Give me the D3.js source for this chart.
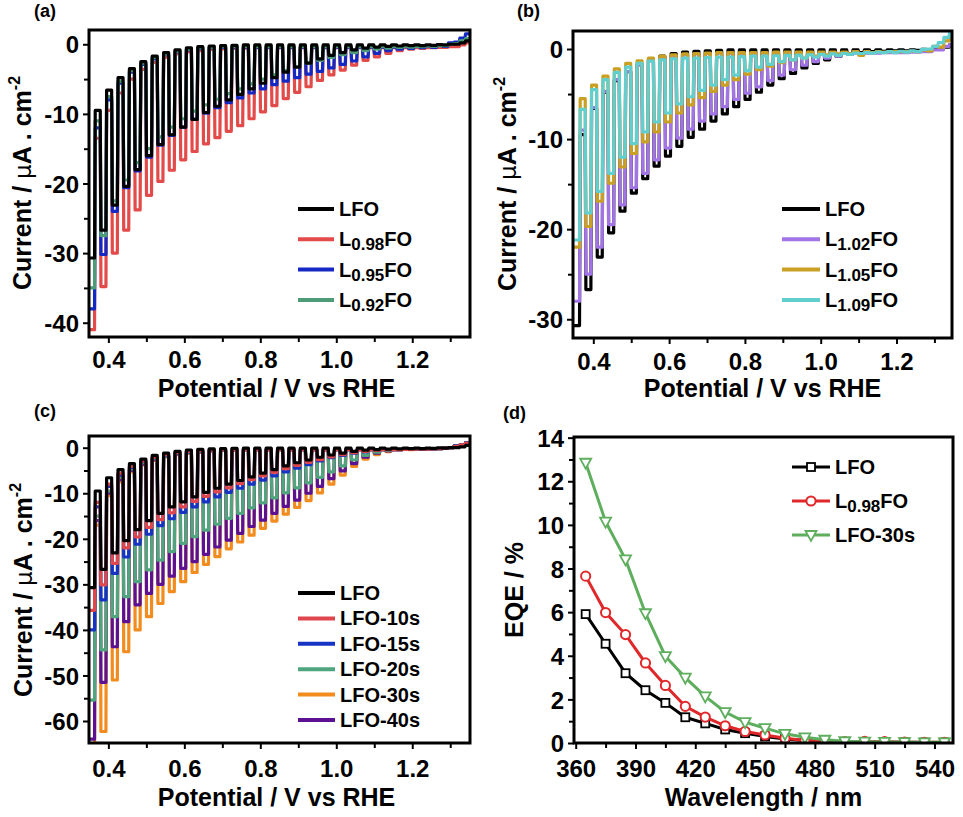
<!DOCTYPE html>
<html>
<head>
<meta charset="utf-8">
<script src="https://cdn.jsdelivr.net/npm/d3@7"></script>
<style>
  body { margin: 0; background: #fff; }
  svg text { font-family: "Liberation Sans", Arial, sans-serif; font-weight: bold; fill: #000; }
</style>
</head>
<body>
<div id="chart"></div>
<script>
// Potentials (V vs RHE) at the middle of each light-on / light-off half cycle
var lightV = [0.357, 0.387, 0.417, 0.447, 0.477, 0.507, 0.537, 0.567, 0.597, 0.627, 0.657, 0.687,
  0.717, 0.747, 0.777, 0.807, 0.837, 0.867, 0.897, 0.927, 0.957, 0.987, 1.017, 1.047, 1.077, 1.107,
  1.137, 1.167, 1.197, 1.227, 1.257, 1.287, 1.317, 1.347];
var darkV = [0.372, 0.402, 0.432, 0.462, 0.492, 0.522, 0.552, 0.582, 0.612, 0.642, 0.672, 0.702,
  0.732, 0.762, 0.792, 0.822, 0.852, 0.882, 0.912, 0.942, 0.972, 1.002, 1.032, 1.062, 1.092, 1.122,
  1.152, 1.182, 1.212, 1.242, 1.272, 1.302, 1.332];

// LFO (used in a, b, c)
var lfoOn = [-30.7, -26.7, -23.1, -20.4, -18.0, -16.0, -14.4, -13.0, -11.9, -10.8, -9.8, -8.9, -8.0, -7.2,
  -6.4, -5.6, -4.8, -4.0, -3.3, -2.7, -2.1, -1.6, -1.2, -0.8, -0.55, -0.4, -0.3, -0.25, -0.2, -0.2,
  -0.15, -0.1, 0.0, 0.5];
var lfoOff = [-9.5, -6.6, -4.8, -3.5, -2.5, -1.7, -1.2, -0.8, -0.5, -0.35, -0.25, -0.2, -0.15, -0.1,
  -0.1, -0.1, -0.1, -0.1, -0.1, -0.1, -0.1, -0.1, -0.1, -0.1, -0.1, -0.1, -0.1, -0.1, -0.1, -0.1,
  -0.05, 0.0, 0.2];

// (a) La-deficient samples
var l098On = [-41, -34.8, -30.0, -26.7, -23.8, -21.7, -19.7, -18.1, -16.6, -15.4, -14.3, -13.4, -12.5,
  -11.7, -10.7, -9.7, -8.8, -7.8, -6.9, -6.1, -5.2, -4.4, -3.7, -3.0, -2.3, -1.8, -1.3, -0.9, -0.7,
  -0.6, -0.5, -0.45, -0.35, 0.2];
var l098Off = [-13.5, -9.5, -7.0, -5.0, -3.6, -2.6, -1.9, -1.4, -1.1, -0.9, -0.75, -0.65, -0.6, -0.55,
  -0.5, -0.5, -0.5, -0.5, -0.5, -0.5, -0.5, -0.5, -0.5, -0.5, -0.5, -0.5, -0.5, -0.5, -0.5, -0.5,
  -0.45, -0.35, -0.1];
var l095On = [-38, -30.2, -24.0, -20.6, -18.2, -16.2, -14.5, -13.1, -11.9, -10.8, -9.9, -9.1, -8.4,
  -7.7, -7.0, -6.4, -5.8, -5.3, -4.8, -4.3, -3.9, -3.4, -2.9, -2.4, -1.8, -1.3, -0.9, -0.7, -0.6,
  -0.5, -0.45, -0.3, 0.3, 1.5];
var l095Off = [-12, -8.0, -5.6, -4.0, -2.9, -2.1, -1.5, -1.1, -0.8, -0.6, -0.5, -0.45, -0.4, -0.4,
  -0.4, -0.4, -0.4, -0.4, -0.4, -0.4, -0.4, -0.4, -0.4, -0.4, -0.4, -0.4, -0.4, -0.35, -0.3, -0.25,
  -0.1, 0.2, 0.9];
var l092On = [-35, -27.5, -22.5, -19.5, -17.0, -15.0, -13.3, -11.9, -10.7, -9.6, -8.7, -7.9, -7.1,
  -6.4, -5.7, -5.0, -4.4, -3.8, -3.2, -2.7, -2.3, -1.9, -1.5, -1.2, -0.9, -0.7, -0.55, -0.45, -0.4,
  -0.35, -0.3, -0.2, 0.1, 0.8];
var l092Off = [-11, -7.5, -5.3, -3.8, -2.7, -1.9, -1.4, -1.0, -0.7, -0.5, -0.4, -0.35, -0.3, -0.3,
  -0.3, -0.3, -0.3, -0.3, -0.3, -0.3, -0.3, -0.3, -0.3, -0.3, -0.3, -0.3, -0.3, -0.3, -0.3, -0.25,
  -0.2, 0.0, 0.5];

// (b) La-excess samples
var l102On = [-28.0, -25.0, -22.0, -19.5, -17.3, -15.4, -13.8, -12.3, -11.0, -9.9, -8.9, -8.0, -7.2,
  -6.4, -5.6, -4.9, -4.2, -3.5, -2.9, -2.3, -1.8, -1.4, -1.0, -0.8, -0.6, -0.5, -0.45, -0.4, -0.4,
  -0.4, -0.35, -0.3, -0.1, 0.5];
var l102Off = [-9.0, -6.5, -4.7, -3.4, -2.5, -1.8, -1.3, -1.0, -0.8, -0.65, -0.55, -0.5, -0.45, -0.45,
  -0.45, -0.45, -0.45, -0.45, -0.45, -0.45, -0.45, -0.45, -0.45, -0.45, -0.45, -0.45, -0.45, -0.4,
  -0.4, -0.35, -0.3, -0.1, 0.3];
var l105On = [-22.0, -19.7, -16.9, -14.9, -13.1, -11.6, -10.3, -9.2, -8.1, -7.1, -6.2, -5.4, -4.7,
  -4.0, -3.4, -2.8, -2.3, -1.9, -1.5, -1.2, -1.0, -0.8, -0.65, -0.55, -0.5, -0.7, -0.4, -0.35, -0.3,
  -0.3, -0.3, -0.2, 0.2, 1.3];
var l105Off = [-5.5, -4.0, -3.0, -2.2, -1.6, -1.3, -1.0, -0.8, -0.65, -0.55, -0.5, -0.45, -0.4, -0.4,
  -0.4, -0.4, -0.4, -0.35, -0.35, -0.35, -0.35, -0.35, -0.35, -0.35, -0.3, -0.3, -0.3, -0.3, -0.3,
  -0.25, -0.1, 0.3, 0.9];
var l109On = [-21.2, -18.2, -15.8, -13.8, -12.0, -10.5, -9.2, -8.1, -7.1, -6.1, -5.3, -4.6, -4.0,
  -3.4, -2.9, -2.4, -2.0, -1.7, -1.4, -1.2, -1.0, -0.9, -0.8, -0.7, -0.6, -0.5, -0.45, -0.4, -0.4,
  -0.35, -0.3, 0.0, 0.7, 2.0];
var l109Off = [-6.7, -4.5, -3.4, -2.6, -2.0, -1.6, -1.35, -1.2, -1.1, -1.0, -1.0, -0.95, -0.9, -0.9,
  -0.85, -0.8, -0.8, -0.75, -0.7, -0.7, -0.65, -0.6, -0.55, -0.5, -0.45, -0.4, -0.35, -0.3, -0.25,
  -0.2, -0.05, 0.3, 1.3];

// (c) treatment time series
var s10On = [-35.7, -30.1, -25.4, -22.0, -19.6, -17.5, -15.8, -14.3, -13.0, -11.8, -10.7, -9.7, -8.8,
  -7.9, -7.0, -6.2, -5.4, -4.6, -3.9, -3.2, -2.6, -2.0, -1.5, -1.1, -0.8, -0.6, -0.45, -0.4, -0.35,
  -0.3, -0.25, -0.1, 0.3, 1.0];
var s10Off = [-12, -8.0, -5.6, -4.1, -2.9, -2.1, -1.5, -1.1, -0.8, -0.6, -0.5, -0.45, -0.4, -0.4,
  -0.4, -0.4, -0.4, -0.4, -0.4, -0.4, -0.4, -0.4, -0.4, -0.4, -0.4, -0.4, -0.4, -0.35, -0.3, -0.3,
  -0.2, 0.0, 0.6];
var s15On = [-40, -33.4, -27.6, -24.0, -21.2, -19.0, -17.1, -15.6, -14.2, -13.0, -11.9, -10.8, -9.8,
  -8.9, -8.0, -7.1, -6.2, -5.3, -4.5, -3.7, -2.9, -2.2, -1.7, -1.2, -0.9, -0.6, -0.45, -0.4, -0.35,
  -0.3, -0.25, -0.1, 0.4, 1.1];
var s15Off = [-13, -8.5, -6.0, -4.3, -3.0, -2.2, -1.6, -1.2, -0.9, -0.7, -0.55, -0.45, -0.4, -0.4,
  -0.4, -0.4, -0.4, -0.4, -0.4, -0.4, -0.4, -0.4, -0.4, -0.4, -0.4, -0.4, -0.4, -0.35, -0.3, -0.3,
  -0.2, 0.0, 0.6];
var s20On = [-55.4, -44.4, -37.1, -32.7, -29.4, -26.8, -24.7, -22.8, -21.0, -19.5, -18.1, -16.8,
  -15.5, -14.4, -13.2, -12.1, -11.0, -9.9, -8.8, -7.7, -6.5, -5.3, -4.0, -2.7, -1.7, -1.0, -0.6,
  -0.4, -0.35, -0.3, -0.25, -0.1, 0.4, 1.1];
var s20Off = [-15, -9.5, -6.5, -4.6, -3.3, -2.4, -1.8, -1.3, -1.0, -0.8, -0.6, -0.5, -0.45, -0.4,
  -0.4, -0.4, -0.4, -0.4, -0.4, -0.4, -0.4, -0.4, -0.4, -0.4, -0.4, -0.4, -0.4, -0.35, -0.3, -0.3,
  -0.2, 0.0, 0.6];
var s30On = [-67, -62.3, -51.0, -44.8, -40.0, -37.1, -34.2, -31.6, -29.4, -27.4, -25.6, -23.9, -22.2,
  -20.7, -19.2, -17.7, -16.1, -14.6, -13.1, -11.6, -9.9, -8.0, -6.0, -4.1, -2.5, -1.5, -0.85, -0.5,
  -0.4, -0.3, -0.25, -0.1, 0.4, 1.1];
var s30Off = [-17, -10.5, -7.5, -5.3, -3.8, -2.8, -2.0, -1.5, -1.2, -0.9, -0.7, -0.55, -0.5, -0.45,
  -0.45, -0.45, -0.45, -0.45, -0.45, -0.45, -0.45, -0.45, -0.45, -0.45, -0.45, -0.4, -0.4, -0.35,
  -0.3, -0.3, -0.2, 0.0, 0.6];
var s40On = [-64, -51.5, -43.7, -38.2, -34.5, -32.0, -30.0, -28.2, -26.5, -25.0, -23.4, -21.8, -20.3,
  -18.8, -17.3, -15.9, -14.4, -12.9, -11.5, -10.0, -8.5, -6.8, -5.1, -3.5, -2.1, -1.2, -0.7, -0.45,
  -0.35, -0.3, -0.25, -0.1, 0.4, 1.1];
var s40Off = [-16, -10, -7.0, -5.0, -3.6, -2.6, -1.9, -1.4, -1.1, -0.9, -0.7, -0.55, -0.5, -0.45,
  -0.45, -0.45, -0.45, -0.45, -0.45, -0.45, -0.45, -0.45, -0.45, -0.45, -0.45, -0.4, -0.4, -0.35,
  -0.3, -0.3, -0.2, 0.0, 0.6];

// (d) EQE spectra
var wavelengths = [365, 375, 385, 395, 405, 415, 425, 435, 445, 455, 465, 475, 485, 495, 505, 515, 525, 535, 545];
var eqeLFO = [5.91, 4.55, 3.2, 2.42, 1.84, 1.18, 0.9, 0.62, 0.45, 0.3, 0.18, 0.11, 0.06, 0.04, 0.04, 0.03, 0.03, 0.02, 0.02];
var eqeL098 = [7.65, 5.98, 4.97, 3.67, 2.64, 1.68, 1.19, 0.79, 0.53, 0.37, 0.22, 0.12, 0.08, 0.06, 0.07, 0.06, 0.04, 0.03, 0.03];
var eqe30s = [12.85, 10.15, 8.42, 5.95, 3.98, 3.0, 2.14, 1.42, 0.96, 0.68, 0.42, 0.26, 0.15, 0.08, 0.06, 0.05, 0.04, 0.03, 0.03];

// Tick values
var potMajor = [0.4, 0.6, 0.8, 1.0, 1.2];
var potMinor = [0.5, 0.7, 0.9, 1.1, 1.3];
var yMajorA = [0, -10, -20, -30, -40], yMinorA = [-5, -15, -25, -35];
var yMajorB = [0, -10, -20, -30], yMinorB = [-5, -15, -25];
var yMajorC = [0, -10, -20, -30, -40, -50, -60], yMinorC = [-5, -15, -25, -35, -45, -55];
var wlMajor = [360, 390, 420, 450, 480, 510, 540], wlMinor = [375, 405, 435, 465, 495, 525];
var eqeMajor = [0, 2, 4, 6, 8, 10, 12, 14], eqeMinor = [1, 3, 5, 7, 9, 11, 13];

var svg = d3.select("#chart").append("svg")
  .attr("width", 963)
  .attr("height", 817);

// Turn light / dark arrays into a chopped square-wave point list
function chopPoints(on, off) {
  var w = 0.0066;
  var pts = [[0.344, on[0]]];
  on.forEach(function(v, k) {
    pts.push([lightV[k] - w, v], [lightV[k] + w, v]);
    if (k < off.length) {
      pts.push([darkV[k] - w, off[k]], [darkV[k] + w, off[k]]);
    }
  });
  return pts;
}

// Label with a subscript, e.g. L + 0.98 + FO
function richText(sel, parts, size) {
  parts.forEach(function(p) {
    var t = sel.append("tspan").text(p.t);
    if (p.sub) t.attr("font-size", 17).attr("dy", 4);
    else if (p.after) t.attr("font-size", size).attr("dy", -4);
    else t.attr("font-size", size);
  });
}

function drawPanel(p) {
  var x = d3.scaleLinear().domain(p.xDomain).range([p.left, p.right]);
  var y = d3.scaleLinear().domain(p.yDomain).range([p.bottom, p.top]);
  var g = svg.append("g");

  var clipId = "clip-" + p.id;
  g.append("clipPath").attr("id", clipId)
    .append("rect")
    .attr("x", p.left).attr("y", p.top)
    .attr("width", p.right - p.left).attr("height", p.bottom - p.top);

  var plot = g.append("g").attr("clip-path", "url(#" + clipId + ")");

  if (p.chopped) {
    var line = d3.line()
      .x(function(d) { return x(d[0]); })
      .y(function(d) { return y(d[1]); });
    // drawing order: first index ends up at the bottom
    p.order.forEach(function(i) {
      var s = p.series[i];
      plot.append("path")
        .attr("d", line(chopPoints(s.on, s.off)))
        .attr("fill", "none")
        .attr("stroke", s.color)
        .attr("stroke-width", 3.2)
        .attr("stroke-linejoin", "round");
    });
  } else {
    var eqeLine = d3.line()
      .x(function(d, i) { return x(wavelengths[i]); })
      .y(function(d) { return y(d); });
    p.series.forEach(function(s) {
      plot.append("path")
        .attr("d", eqeLine(s.values))
        .attr("fill", "none")
        .attr("stroke", s.color)
        .attr("stroke-width", 3);
      s.values.forEach(function(v, i) {
        drawMarker(plot, s.marker, x(wavelengths[i]), y(v), s.color);
      });
    });
  }

  // Axes (ticks point outward)
  var yFmt = function(d) { return String(d); };
  var xAxis = d3.axisBottom(x).tickValues(p.xMajor).tickSize(6).tickSizeOuter(0).tickFormat(p.xFormat);
  var xMin = d3.axisBottom(x).tickValues(p.xMinor).tickSize(5).tickSizeOuter(0).tickFormat("");
  var yAxis = d3.axisLeft(y).tickValues(p.yMajor).tickSize(6).tickSizeOuter(0).tickFormat(yFmt);
  var yMin = d3.axisLeft(y).tickValues(p.yMinor).tickSize(5).tickSizeOuter(0).tickFormat("");

  [xAxis, xMin].forEach(function(a) {
    var ag = g.append("g").attr("transform", "translate(0," + p.bottom + ")").call(a);
    ag.select(".domain").remove();
    ag.selectAll("line").attr("stroke-width", 2);
    ag.selectAll("text").attr("y", p.xLabelOff).attr("dy", null);
  });
  [yAxis, yMin].forEach(function(a) {
    var ag = g.append("g").attr("transform", "translate(" + p.left + ",0)").call(a);
    ag.select(".domain").remove();
    ag.selectAll("line").attr("stroke-width", 2);
    ag.selectAll("text").attr("x", -10).attr("dy", "0.36em");
  });
  g.selectAll(".tick text").attr("font-size", 24).attr("font-family", null).attr("fill", "#000");

  // frame
  g.append("rect")
    .attr("x", p.left).attr("y", p.top)
    .attr("width", p.right - p.left).attr("height", p.bottom - p.top)
    .attr("fill", "none").attr("stroke", "#000").attr("stroke-width", 3);

  // panel tag
  g.append("text").attr("x", p.tagX).attr("y", p.tagY).attr("font-size", 18).text(p.tag);

  // axis titles
  g.append("text")
    .attr("x", (p.left + p.right) / 2 + p.xTitleShift).attr("y", p.xTitleY)
    .attr("text-anchor", "middle").attr("font-size", 25)
    .text(p.xTitle);

  var yt = g.append("text")
    .attr("transform", "translate(" + p.yTitleX + "," + p.yTitleY + ") rotate(-90)")
    .attr("text-anchor", "middle").attr("font-size", 25);
  if (p.chopped) {
    yt.append("tspan").text("Current / ");
    yt.append("tspan").attr("font-weight", "normal").attr("font-family", "DejaVu Sans").attr("font-size", 23).text("\u03bc");
    yt.append("tspan").text("A . cm");
    yt.append("tspan").attr("font-size", 16).attr("dy", -11).text("-2");
  } else {
    yt.text("EQE / %");
  }

  // legend
  p.series.forEach(function(s, i) {
    var ly = p.legY + i * p.legStep;
    g.append("line")
      .attr("x1", p.legX).attr("x2", p.legX + p.legLen)
      .attr("y1", ly).attr("y2", ly)
      .attr("stroke", s.color).attr("stroke-width", p.chopped ? 4 : 3);
    if (s.marker) drawMarker(g, s.marker, p.legX + p.legLen / 2, ly, s.color);
    var lt = g.append("text").attr("x", p.legX + p.legLen + 5).attr("y", ly + 7);
    richText(lt, s.label, 20);
  });
}

function drawMarker(sel, kind, cx, cy, color) {
  if (kind === "square") {
    sel.append("rect").attr("x", cx - 4).attr("y", cy - 4).attr("width", 8).attr("height", 8)
      .attr("fill", "#fff").attr("stroke", color).attr("stroke-width", 1.8);
  } else if (kind === "circle") {
    sel.append("circle").attr("cx", cx).attr("cy", cy).attr("r", 4.6)
      .attr("fill", "#fff").attr("stroke", color).attr("stroke-width", 2);
  } else {
    sel.append("path")
      .attr("d", "M" + (cx - 5.5) + "," + (cy - 4) + "L" + (cx + 5.5) + "," + (cy - 4) + "L" + cx + "," + (cy + 6) + "Z")
      .attr("fill", "#fff").attr("stroke", color).attr("stroke-width", 1.8);
  }
}

var potFmt = d3.format(".1f");

drawPanel({
  id: "a", tag: "(a)", tagX: 34, tagY: 17, chopped: true, order: [1, 2, 3, 0],
  left: 89, right: 470, top: 30, bottom: 337,
  xDomain: [0.349, 1.352], yDomain: [-42.05, 2.05],
  xMajor: potMajor, xMinor: potMinor, yMajor: yMajorA, yMinor: yMinorA, xFormat: potFmt,
  xLabelOff: 31, xTitle: "Potential / V vs RHE", xTitleY: 397, xTitleShift: -3,
  yTitleX: 31, yTitleY: 183,
  legX: 298, legLen: 36, legY: 209, legStep: 30.3,
  series: [
    { on: lfoOn, off: lfoOff, color: "#000000", label: [{ t: "LFO" }] },
    { on: l098On, off: l098Off, color: "#e34a4a", label: [{ t: "L" }, { t: "0.98", sub: true }, { t: "FO", after: true }] },
    { on: l095On, off: l095Off, color: "#1428c4", label: [{ t: "L" }, { t: "0.95", sub: true }, { t: "FO", after: true }] },
    { on: l092On, off: l092Off, color: "#4c9c78", label: [{ t: "L" }, { t: "0.92", sub: true }, { t: "FO", after: true }] }
  ]
});

drawPanel({
  id: "b", tag: "(b)", tagX: 517, tagY: 17, chopped: true, order: [0, 1, 2, 3],
  left: 573, right: 952, top: 31, bottom: 338,
  xDomain: [0.3464, 1.3464], yDomain: [-32.08, 2.0],
  xMajor: potMajor, xMinor: potMinor, yMajor: yMajorB, yMinor: yMinorB, xFormat: potFmt,
  xLabelOff: 32, xTitle: "Potential / V vs RHE", xTitleY: 397, xTitleShift: 0,
  yTitleX: 516, yTitleY: 184,
  legX: 782, legLen: 38, legY: 209, legStep: 30.3,
  series: [
    { on: lfoOn, off: lfoOff, color: "#000000", label: [{ t: "LFO" }] },
    { on: l102On, off: l102Off, color: "#a274e6", label: [{ t: "L" }, { t: "1.02", sub: true }, { t: "FO", after: true }] },
    { on: l105On, off: l105Off, color: "#c9a023", label: [{ t: "L" }, { t: "1.05", sub: true }, { t: "FO", after: true }] },
    { on: l109On, off: l109Off, color: "#62cfcf", label: [{ t: "L" }, { t: "1.09", sub: true }, { t: "FO", after: true }] }
  ]
});

drawPanel({
  id: "c", tag: "(c)", tagX: 34, tagY: 417, chopped: true, order: [4, 5, 3, 2, 1, 0],
  left: 89, right: 470, top: 436, bottom: 743,
  xDomain: [0.349, 1.352], yDomain: [-64.83, 2.57],
  xMajor: potMajor, xMinor: potMinor, yMajor: yMajorC, yMinor: yMinorC, xFormat: potFmt,
  xLabelOff: 34, xTitle: "Potential / V vs RHE", xTitleY: 806, xTitleShift: -3,
  yTitleX: 32, yTitleY: 590,
  legX: 298, legLen: 37, legY: 593, legStep: 25.4,
  series: [
    { on: lfoOn, off: lfoOff, color: "#000000", label: [{ t: "LFO" }] },
    { on: s10On, off: s10Off, color: "#e0474c", label: [{ t: "LFO-10s" }] },
    { on: s15On, off: s15Off, color: "#1633c4", label: [{ t: "LFO-15s" }] },
    { on: s20On, off: s20Off, color: "#4fa57d", label: [{ t: "LFO-20s" }] },
    { on: s30On, off: s30Off, color: "#f28c1e", label: [{ t: "LFO-30s" }] },
    { on: s40On, off: s40Off, color: "#5c1192", label: [{ t: "LFO-40s" }] }
  ]
});

drawPanel({
  id: "d", tag: "(d)", tagX: 503, tagY: 419, chopped: false,
  left: 574, right: 953, top: 437, bottom: 743,
  xDomain: [359.15, 549.3], yDomain: [0, 14.03],
  xMajor: wlMajor, xMinor: wlMinor, yMajor: eqeMajor, yMinor: eqeMinor, xFormat: d3.format("d"),
  xLabelOff: 34, xTitle: "Wavelength / nm", xTitleY: 806, xTitleShift: 0,
  yTitleX: 523, yTitleY: 590,
  legX: 792, legLen: 38, legY: 467, legStep: 34,
  series: [
    { values: eqeLFO, color: "#000000", marker: "square", label: [{ t: "LFO" }] },
    { values: eqeL098, color: "#e0282a", marker: "circle", label: [{ t: "L" }, { t: "0.98", sub: true }, { t: "FO", after: true }] },
    { values: eqe30s, color: "#5eae5e", marker: "triangle", label: [{ t: "LFO-30s" }] }
  ]
});
</script>
</body>
</html>
